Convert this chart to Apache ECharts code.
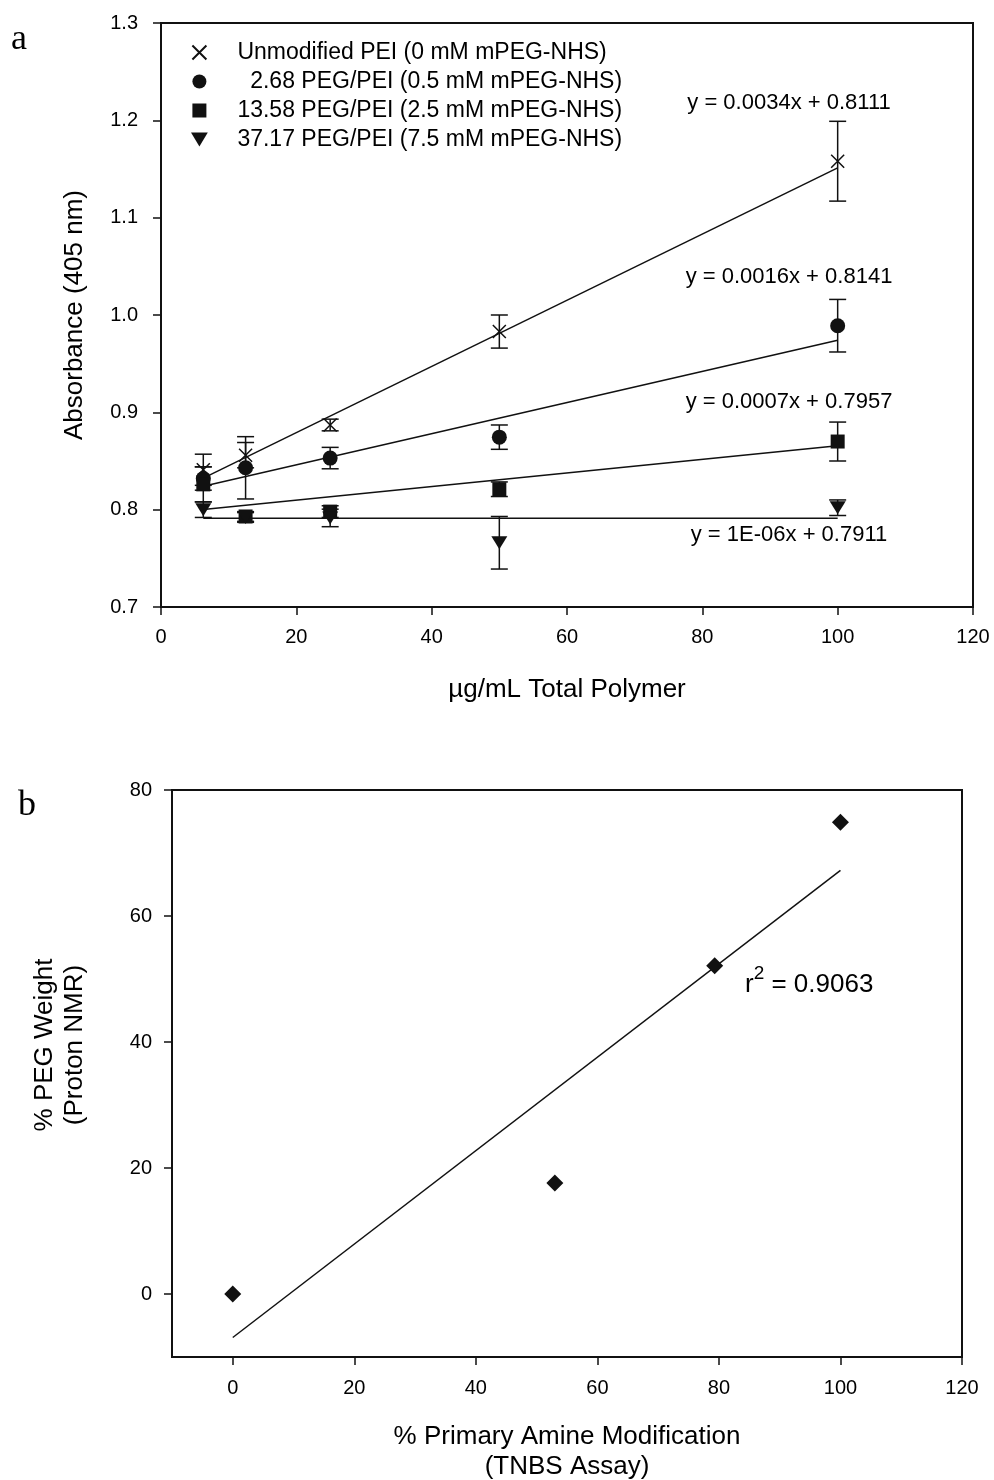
<!DOCTYPE html>
<html>
<head>
<meta charset="utf-8">
<script src="https://cdn.jsdelivr.net/npm/echarts@6/dist/echarts.min.js"></script>
<style>
  html, body { margin: 0; padding: 0; background: #fff; }
  #chart { width: 994px; height: 1480px; }
</style>
</head>
<body>
<div id="chart"></div>
<script>
const FONT = '"Liberation Sans", Arial, Helvetica, sans-serif';
const SERIF = '"Liberation Serif", "Times New Roman", serif';

// ---- Panel a: absorbance vs. total polymer concentration ----
const concentrations = [6.25, 12.5, 25, 50, 100];
const groupNames = [
  'Unmodified PEI (0 mM mPEG-NHS)',
  '  2.68 PEG/PEI (0.5 mM mPEG-NHS)',
  '13.58 PEG/PEI (2.5 mM mPEG-NHS)',
  '37.17 PEG/PEI (7.5 mM mPEG-NHS)'
];
const absUnmodified = [0.841, 0.856, 0.887, 0.983, 1.158];
const errUnmodified = [0.016, 0.013, 0.006, 0.017, 0.041];
const absPeg268 = [0.832, 0.843, 0.853, 0.8745, 0.989];
const errPeg268 = [0.012, 0.032, 0.011, 0.0125, 0.027];
const absPeg1358 = [0.826, 0.793, 0.798, 0.821, 0.870];
const errPeg1358 = [0.018, 0.005, 0.006, 0.0075, 0.020];
const absPeg3717 = [0.800, 0.792, 0.7915, 0.766, 0.802];
const errPeg3717 = [0.008, 0.005, 0.009, 0.027, 0.008];
const fitSlopes = [0.0034, 0.0016, 0.0007, 0.000001];
const fitIntercepts = [0.8111, 0.8141, 0.7957, 0.7911];
const xTicksA = [0, 20, 40, 60, 80, 100, 120];
const yTicksA = [0.7, 0.8, 0.9, 1.0, 1.1, 1.2, 1.3];

// ---- Panel b: PEG weight (NMR) vs. primary amine modification (TNBS) ----
const amineModification = [0, 53, 79.3, 100];
const pegWeight = [0, 17.6, 52.1, 74.9];
const rSquared = 0.9063;
const xTicksB = [0, 20, 40, 60, 80, 100, 120];
const yTicksB = [0, 20, 40, 60, 80];

const absValues = [absUnmodified, absPeg268, absPeg1358, absPeg3717];
const absErrors = [errUnmodified, errPeg268, errPeg1358, errPeg3717];
const symbols = [
  'path://M0,0L12,12M12,0L0,12',
  'circle',
  'path://M0,0L10,0L10,10L0,10Z',
  'path://M0,0L12,0L6,10Z'
];
const symbolSizes = [13, 15, 14, [16, 13]];
const eqLabelY = [103, 277, 402, 535];

const INK = '#111';

function fmtSlope(s) {
  if (s >= 1e-4) return s.toFixed(4);
  const exp = Math.round(Math.log10(s));
  const mant = Math.round(s / Math.pow(10, exp));
  return mant + 'E' + (exp < 0 ? '-' : '+') + String(Math.abs(exp)).padStart(2, '0');
}

function errorBarItem(params, api) {
  const x = api.value(0), y = api.value(1), e = api.value(2);
  const top = api.coord([x, y + e]);
  const bot = api.coord([x, y - e]);
  const hw = 8.5;
  const st = { stroke: INK, lineWidth: 1.5 };
  return {
    type: 'group',
    children: [
      { type: 'line', shape: { x1: top[0], y1: top[1], x2: bot[0], y2: bot[1] }, style: st },
      { type: 'line', shape: { x1: top[0] - hw, y1: top[1], x2: top[0] + hw, y2: top[1] }, style: st },
      { type: 'line', shape: { x1: bot[0] - hw, y1: bot[1], x2: bot[0] + hw, y2: bot[1] }, style: st }
    ]
  };
}

function linearFit(xs, ys) {
  const n = xs.length;
  const mx = xs.reduce((a, b) => a + b, 0) / n;
  const my = ys.reduce((a, b) => a + b, 0) / n;
  let sxy = 0, sxx = 0;
  for (let i = 0; i < n; i++) { sxy += (xs[i] - mx) * (ys[i] - my); sxx += (xs[i] - mx) ** 2; }
  const slope = sxy / sxx;
  return { slope, intercept: my - slope * mx };
}

const axisLineStyle = { show: true, onZero: false, lineStyle: { color: INK, width: 2 } };
const tickStyle = (vals) => ({ show: true, inside: false, length: 8, customValues: vals, lineStyle: { color: INK, width: 1.5 } });
const labelStyle = (vals, margin, fmt) => ({
  customValues: vals, margin, color: '#000', fontFamily: FONT, fontSize: 20,
  formatter: fmt || (v => String(v))
});

const series = [];
const xMin = Math.min(...concentrations), xMax = Math.max(...concentrations);

absValues.forEach((vals, g) => {
  // regression line from the stated equation
  series.push({
    type: 'line', xAxisIndex: 0, yAxisIndex: 0, silent: true, symbol: 'none', z: 1,
    lineStyle: { color: INK, width: 1.5 },
    data: [[xMin, fitSlopes[g] * xMin + fitIntercepts[g]], [xMax, fitSlopes[g] * xMax + fitIntercepts[g]]]
  });
  // error bars (mean ± SD)
  series.push({
    type: 'custom', xAxisIndex: 0, yAxisIndex: 0, silent: true, z: 2,
    renderItem: errorBarItem, encode: { x: 0, y: 1 },
    data: concentrations.map((c, i) => [c, vals[i], absErrors[g][i]])
  });
  // markers
  const isCross = g === 0;
  series.push({
    type: 'scatter', name: groupNames[g], xAxisIndex: 0, yAxisIndex: 0, z: 3,
    symbol: symbols[g], symbolSize: symbolSizes[g], symbolKeepAspect: false,
    itemStyle: isCross
      ? { color: 'rgba(0,0,0,0)', borderColor: INK, borderWidth: 1.5, opacity: 1 }
      : { color: INK, opacity: 1 },
    data: concentrations.map((c, i) => [c, vals[i]])
  });
});

const fitB = linearFit(amineModification, pegWeight);
const bMin = Math.min(...amineModification), bMax = Math.max(...amineModification);
series.push({
  type: 'line', xAxisIndex: 1, yAxisIndex: 1, silent: true, symbol: 'none', z: 1,
  lineStyle: { color: INK, width: 1.5 },
  data: [[bMin, fitB.slope * bMin + fitB.intercept], [bMax, fitB.slope * bMax + fitB.intercept]]
});
series.push({
  type: 'scatter', xAxisIndex: 1, yAxisIndex: 1, z: 3,
  symbol: 'diamond', symbolSize: 17, itemStyle: { color: INK, opacity: 1 },
  data: amineModification.map((x, i) => [x, pegWeight[i]])
});

const txt = (text, x, y, size, opts = {}) => ({
  type: 'text', x, y, rotation: opts.rotation || 0, silent: true,
  style: {
    text, fill: '#000', fontFamily: opts.family || FONT, fontSize: size,
    align: opts.align || 'center', verticalAlign: 'middle',
    textAlign: opts.align || 'center', textVerticalAlign: 'middle',
    rich: opts.rich
  }
});

const graphic = [
  txt('a', 11, 40, 36, { family: SERIF, align: 'left' }),
  txt('b', 18, 806, 36, { family: SERIF, align: 'left' }),
  txt('Absorbance (405 nm)', 75, 315, 26, { rotation: Math.PI / 2 }),
  txt('\u00b5g/mL Total Polymer', 567, 690, 26),
  txt('% PEG Weight', 45, 1045, 26, { rotation: Math.PI / 2 }),
  txt('(Proton NMR)', 75, 1045, 26, { rotation: Math.PI / 2 }),
  txt('% Primary Amine Modification', 567, 1437, 26),
  txt('(TNBS Assay)', 567, 1467, 26),
  txt('{r|r}{s|2}{t| = ' + rSquared.toFixed(4) + '}', 745, 981, 26, {
    align: 'left',
    rich: {
      r: { fontFamily: FONT, fontSize: 26, lineHeight: 34, verticalAlign: 'bottom', fill: '#000' },
      s: { fontFamily: FONT, fontSize: 19, lineHeight: 19, verticalAlign: 'top', fill: '#000' },
      t: { fontFamily: FONT, fontSize: 26, lineHeight: 34, verticalAlign: 'bottom', fill: '#000' }
    }
  })
];
fitSlopes.forEach((s, g) => {
  graphic.push(txt('y = ' + fmtSlope(s) + 'x + ' + fitIntercepts[g].toFixed(4), 789, eqLabelY[g], 22));
});

const option = {
  animation: false,
  backgroundColor: '#fff',
  textStyle: { fontFamily: FONT },
  grid: [
    { left: 161, top: 23, width: 812, height: 584, show: true, borderColor: INK, borderWidth: 2, backgroundColor: 'transparent' },
    { left: 172, top: 790, width: 790, height: 567, show: true, borderColor: INK, borderWidth: 2, backgroundColor: 'transparent' }
  ],
  xAxis: [
    { type: 'value', gridIndex: 0, min: xTicksA[0], max: xTicksA[xTicksA.length - 1],
      axisLine: axisLineStyle, axisTick: tickStyle(xTicksA), splitLine: { show: false },
      axisLabel: labelStyle(xTicksA, 20) },
    { type: 'value', gridIndex: 1, min: -10, max: xTicksB[xTicksB.length - 1],
      axisLine: axisLineStyle, axisTick: tickStyle(xTicksB), splitLine: { show: false },
      axisLabel: labelStyle(xTicksB, 21) }
  ],
  yAxis: [
    { type: 'value', gridIndex: 0, min: yTicksA[0], max: yTicksA[yTicksA.length - 1],
      axisLine: axisLineStyle, axisTick: tickStyle(yTicksA), splitLine: { show: false },
      axisLabel: labelStyle(yTicksA, 23, v => v.toFixed(1)) },
    { type: 'value', gridIndex: 1, min: -10, max: yTicksB[yTicksB.length - 1],
      axisLine: axisLineStyle, axisTick: tickStyle(yTicksB), splitLine: { show: false },
      axisLabel: labelStyle(yTicksB, 20) }
  ],
  legend: {
    data: groupNames, orient: 'vertical', left: 191, top: 41, padding: 0,
    itemWidth: 66, itemHeight: 14, itemGap: 6, selectedMode: false,
    textStyle: { fontFamily: FONT, fontSize: 23, color: '#000' }
  },
  series,
  graphic
};

const chart = echarts.init(document.getElementById('chart'), null, { renderer: 'canvas' });
chart.setOption(option);
</script>
</body>
</html>
